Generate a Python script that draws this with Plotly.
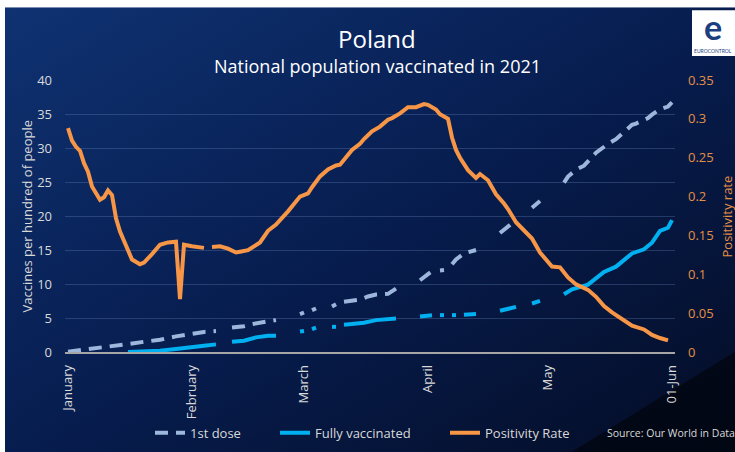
import base64
import pandas as pd
import plotly.graph_objects as go

START_DATE = "2021-01-01"

# Positivity rate (right axis) - day offset from 1 Jan 2021, None = gap
pr_days = [0, 1, 2, 3, 4, 5, 6, 7, 8, 9, 10, 11, 12, 13, 14, 16, 18, 19, 21, 23, 25, 27, 28, 29, 31, 34, 35,
           36, 38, 40, 42, 43, 45, 48, 50, 52, 55, 58, 60, 61, 63, 65, 67, 68, 69, 71, 73, 74, 76, 78, 80,
           81, 83, 85, 87, 89, 90, 92, 93, 95, 96, 97, 98, 100, 102, 103, 105, 107, 109, 110, 112, 114,
           116, 118, 120, 121, 123, 125, 127, 130, 132, 134, 136, 139, 141, 144, 146, 148, 150]
pr_vals = [0.288, 0.272, 0.264, 0.259, 0.243, 0.232, 0.213, 0.204, 0.196, 0.199, 0.208, 0.202, 0.172,
           0.155, 0.143, 0.119, 0.113, 0.115, 0.126, 0.138, 0.141, 0.142, 0.068, 0.138, 0.136, 0.134, None,
           0.135, 0.136, 0.133, 0.128, 0.129, 0.131, 0.141, 0.156, 0.164, 0.181, 0.200, 0.204, 0.212,
           0.226, 0.235, 0.240, 0.241, 0.247, 0.260, 0.268, 0.274, 0.284, 0.290, 0.299, 0.301, 0.307,
           0.315, 0.315, 0.319, 0.318, 0.312, 0.306, 0.300, 0.276, 0.260, 0.250, 0.234, 0.224, 0.229,
           0.221, 0.203, 0.191, 0.184, 0.167, 0.157, 0.146, 0.128, 0.115, 0.110, 0.109, 0.096, 0.087,
           0.080, 0.071, 0.059, 0.051, 0.041, 0.034, 0.029, 0.022, 0.018, 0.015]

# 1st dose per hundred (left axis)
fd_days = [0, 3, 6, 10, 15, 19, 23, 27, 31, 34, 37, 38,
           41, 44, 46, 48, 50, 52, 53,
           58, 59, 60,
           61, 62, 63,
           66, 67, 68,
           69, 71, 73, 75, 77, 80, 81, 82, 83,
           88, 90, 91, 92,
           93, 94, 95,
           96, 97, 99, 101, 102, 103,
           108, 112, 113,
           116, 118, 119,
           124, 125, 127, 129, 132, 134, 135, 137, 139, 141, 142, 145, 146, 148, 150, 151]
fd_vals = [0.05, 0.25, 0.44, 0.78, 1.17, 1.5, 1.8, 2.3, 2.74, 2.95, 3.08, None,
           3.6, 3.8, 4.1, 4.35, 4.5, 4.69, None,
           5.57, 5.81, None,
           6.15, 6.4, None,
           6.7, 7.03, None,
           7.4, 7.6, 7.7, 8.16, 8.45, 8.55, 8.98, 9.33, None,
           10.55, 11.5, 11.9, None,
           12.0, 12.06, None,
           12.9, 13.6, 14.5, 14.9, 15.0, None,
           17.5, 19.4, None,
           21.2, 22.2, None,
           24.9, 25.8, 26.8, 27.4, 29.3, 30.2, 30.6, 31.3, 32.4, 33.4, 33.6, 34.4, 34.9, 35.7, 36.1, 36.7]

# Fully vaccinated per hundred (left axis)
fv_days = [15, 19, 23, 27, 30, 34, 37, 38,
           41, 44, 47, 50, 52, 53,
           58, 59, 60,
           61, 62, 63,
           66, 67, 68,
           69, 74, 77, 82, 83,
           88, 91, 92,
           93, 94, 95,
           96, 97, 98,
           99, 102, 103,
           108, 112, 113,
           116, 118, 119,
           124, 126, 130, 132, 134, 137, 139, 141, 144, 146, 148, 150, 151]
fv_vals = [0.0, 0.05, 0.2, 0.44, 0.59, 0.93, 1.12, None,
           1.5, 1.66, 2.15, 2.39, 2.39, None,
           3.0, 3.08, None,
           3.37, 3.6, None,
           3.7, 3.7, None,
           4.0, 4.3, 4.69, 4.94, None,
           5.23, 5.42, None,
           5.42, 5.42, None,
           5.42, 5.42, None,
           5.47, 5.57, None,
           6.06, 6.64, None,
           7.13, 7.52, None,
           8.5, 9.23, 9.9, 10.9, 11.77, 12.55, 13.6, 14.5, 15.1, 16.07, 17.8, 18.27, 19.4]

x_tick_dates = ["2021-01-01", "2021-02-01", "2021-03-01", "2021-04-01", "2021-05-01", "2021-06-01"]
x_tick_text = ["January", "February", "March", "April", "May", "01-Jun"]
y_ticks = [0, 5, 10, 15, 20, 25, 30, 35, 40]
y2_ticks = [0, 0.05, 0.1, 0.15, 0.2, 0.25, 0.3, 0.35]
y2_text = ["0", "0.05", "0.1", "0.15", "0.2", "0.25", "0.3", "0.35"]


def to_dates(days):
    return pd.Timestamp(START_DATE) + pd.to_timedelta(days, unit="D")


# Layout geometry (pixels). The page displays the figure about 8 px shorter than
# its layout height, so the layout asks for 460 to be shown at 452.
W, H_SHOWN, H_LAYOUT = 735, 452, 460
L, R, T, B = 65, 60, 80, 99
PW, PH = W - L - R, H_SHOWN - T - B
PLOT_BOTTOM = H_SHOWN - B


def px(x):
    return (x - L) / PW


def py(y):
    return (PLOT_BOTTOM - y) / PH


FONT = "Open Sans"
C_FD = "#9cb6dc"
C_FV = "#00b0f0"
C_PR = "#f79646"
C_PR_TXT = "#e38f45"
C_TXT = "#d9d9d9"
LW = 4

fig = go.Figure()
fig.add_trace(go.Scatter(x=to_dates(fd_days), y=fd_vals, name="1st dose", mode="lines",
                         line=dict(color=C_FD, width=LW, dash="13px,8px"), connectgaps=False,
                         legend="legend"))
fig.add_trace(go.Scatter(x=to_dates(fv_days), y=fv_vals, name="Fully vaccinated", mode="lines",
                         line=dict(color=C_FV, width=LW), connectgaps=False, legend="legend2"))
fig.add_trace(go.Scatter(x=to_dates(pr_days), y=pr_vals, name="Positivity Rate", mode="lines",
                         line=dict(color=C_PR, width=LW), connectgaps=False, yaxis="y2",
                         legend="legend3"))

# Background gradient (styling only)
svg = '''<svg xmlns="http://www.w3.org/2000/svg" width="730" height="445" viewBox="0 0 730 445" preserveAspectRatio="none">
<defs><linearGradient id="g" x1="0" y1="0" x2="1" y2="1">
<stop offset="0" stop-color="#0f3272"/><stop offset="0.5" stop-color="#071d4f"/><stop offset="1" stop-color="#040c24"/>
</linearGradient></defs>
<rect width="730" height="445" fill="url(#g)"/>
<polygon points="556,445 730,340 730,445" fill="#02050f" opacity="0.75"/>
</svg>'''
src = "data:image/svg+xml;base64," + base64.b64encode(svg.encode()).decode()


def leg(x):
    return dict(orientation="h", x=px(x), y=py(434), xanchor="left", yanchor="middle",
                bgcolor="rgba(0,0,0,0)", font=dict(size=13, color=C_TXT, family=FONT))


fig.update_layout(
    width=W, height=H_LAYOUT, autosize=False,
    margin=dict(l=L, r=R, t=T, b=B),
    paper_bgcolor="white",
    plot_bgcolor="rgba(0,0,0,0)",
    font=dict(family=FONT, color=C_TXT, size=13),
    hovermode=False,
    images=[dict(source=src, xref="paper", yref="paper", x=px(5), y=py(7),
                 sizex=730 / PW, sizey=(H_LAYOUT - 7) / PH, xanchor="left", yanchor="top",
                 sizing="stretch", layer="below")],
    xaxis=dict(type="date", range=["2020-12-31 06:00", "2021-06-01 18:00"],
               tickvals=x_tick_dates, ticktext=x_tick_text, tickangle=-90,
               showgrid=False, zeroline=False, showline=True, linecolor="#a6a6a6", linewidth=1.5,
               ticks="", tickfont=dict(size=13, color=C_TXT), ticklabelstandoff=6),
    yaxis=dict(range=[0, 40], tickvals=y_ticks, showgrid=True, gridcolor="rgba(120,150,205,0.28)",
               gridwidth=1, zeroline=False, showline=False, ticks="",
               tickfont=dict(size=13, color=C_TXT), ticklabelstandoff=12),
    yaxis2=dict(range=[0, 0.35], overlaying="y", side="right", tickvals=y2_ticks, ticktext=y2_text,
                showgrid=False, zeroline=False, showline=False, ticks="",
                tickfont=dict(size=13, color=C_PR_TXT), ticklabelstandoff=12),
    legend=leg(150),
    legend2=leg(275),
    legend3=leg(445),
    showlegend=True,
)

ann = [
    dict(text="Poland", x=px(377), y=py(38), font=dict(size=24, color="white")),
    dict(text="National population vaccinated in 2021", x=px(377), y=py(66),
         font=dict(size=18, color="white")),
    dict(text="Vaccines per hundred of people", x=px(27), y=py(217), textangle=-90,
         font=dict(size=13, color=C_TXT)),
    dict(text="Positivity rate", x=px(727), y=py(217), textangle=-90,
         font=dict(size=13, color=C_PR_TXT)),
    dict(text="Source: Our World in Data", x=px(605), y=py(434), xanchor="left",
         font=dict(size=10.5, color=C_TXT)),
    dict(text="<b>e</b>", x=px(713), y=py(26), font=dict(size=34, color="#1b3f80", family="Lato")),
    dict(text="EUROCONTROL", x=px(713), y=py(51), font=dict(size=5, color="#1b3f80", family="Lato")),
]
for a in ann:
    a.setdefault("xanchor", "center")
    a.update(xref="paper", yref="paper", yanchor="middle", showarrow=False)
fig.update_layout(annotations=ann)

fig.add_shape(type="rect", xref="paper", yref="paper", x0=px(692), x1=px(735), y0=py(56), y1=py(10),
              fillcolor="white", line=dict(width=0), layer="above")

fig.write_html(
    "out.html",
    config={"responsive": False, "displayModeBar": False},
    post_script="document.body.style.margin='0';document.documentElement.style.overflow='hidden';"
                "document.body.style.overflow='hidden';",
)
